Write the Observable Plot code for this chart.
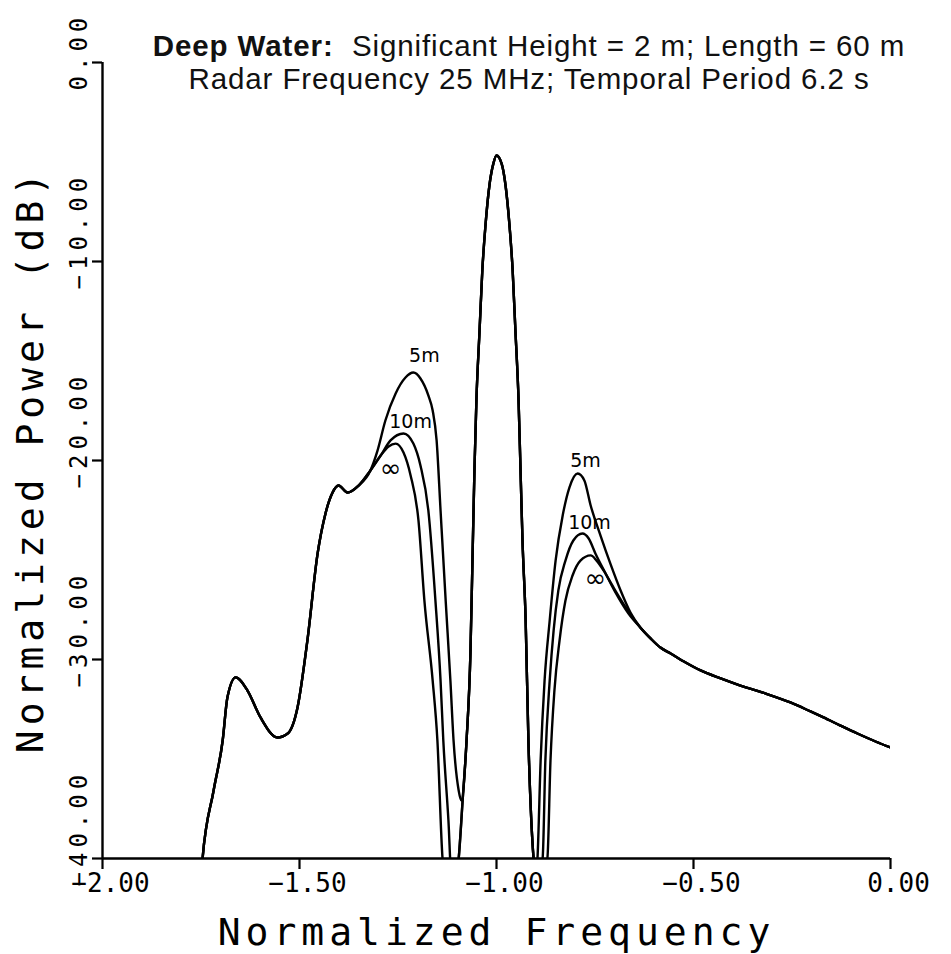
<!DOCTYPE html>
<html>
<head>
<meta charset="utf-8">
<script src="https://cdn.jsdelivr.net/npm/d3@7"></script>
<script src="https://cdn.jsdelivr.net/npm/@observablehq/plot@0.6"></script>
<style>
  html, body { margin: 0; padding: 0; background: #fff; }
  #wrap { position: relative; width: 951px; height: 954px; overflow: hidden; }
  #chart { position: absolute; left: 0; top: 0; }
  #title { position: absolute; left: 79px; width: 900px; top: 29px; text-align: center;
           font-family: "Liberation Sans", Arial, sans-serif; font-size: 29.5px; line-height: 33px;
           letter-spacing: 0.9px; color: #111; }
  #title b { font-weight: bold; }
</style>
</head>
<body>
<div id="wrap">
  <div id="chart"></div>
  <div id="title"><b>Deep Water:</b>&nbsp; Significant Height = 2 m; Length = 60 m<br>Radar Frequency 25 MHz; Temporal Period 6.2 s</div>
</div>
<script>
// ---- axis ticks ----
const xTicks = [-2, -1.5, -1, -0.5, 0];
const xTickLabels = ["\u22122.00", "\u22121.50", "\u22121.00", "\u22120.50", "0.00"];
const yTicks = [0, -10, -20, -30, -40];
const yTickLabels = ["0.00", "\u221210.00", "\u221220.00", "\u221230.00", "\u221240.00"];
const xTitle = "Normalized Frequency";
const yTitle = "Normalized Power (dB)";

// ---- shared low-frequency wing (all three curves) ----
const leftX = [-1.750, -1.746, -1.718, -1.695, -1.683, -1.662, -1.632, -1.599, -1.556, -1.530, -1.505, -1.480, -1.454, -1.434, -1.416, -1.401, -1.378, -1.350, -1.320];
const leftY = [-41.0, -40.0, -36.58, -34.07, -31.91, -30.90, -31.56, -32.91, -33.92, -33.72, -32.41, -29.05, -24.67, -22.66, -21.61, -21.26, -21.61, -21.26, -20.50];

// ---- left second-order peaks ----
const left5mX = [-1.302, -1.282, -1.256, -1.231, -1.211, -1.193, -1.173, -1.162, -1.152, -1.142, -1.129, -1.117, -1.109, -1.096, -1.089];
const left5mY = [-19.50, -17.99, -16.63, -15.83, -15.58, -15.88, -16.73, -17.49, -18.99, -22.51, -27.04, -31.06, -34.07, -36.58, -37.09];
const left10mX = [-1.294, -1.269, -1.236, -1.211, -1.193, -1.173, -1.155, -1.142, -1.135, -1.122, -1.114];
const left10mY = [-19.75, -18.99, -18.64, -19.15, -20.25, -22.51, -27.04, -31.06, -34.07, -38.09, -41.0];
const leftInfX = [-1.294, -1.274, -1.256, -1.236, -1.218, -1.198, -1.183, -1.162, -1.150, -1.137, -1.132];
const leftInfY = [-19.75, -19.30, -19.15, -19.60, -20.75, -23.02, -27.04, -31.06, -34.07, -40.0, -41.0];

// ---- first-order (Bragg) peak, shared ----
const centerX = [-1.102, -1.096, -1.086, -1.076, -1.066, -1.061, -1.056, -1.051, -1.043, -1.036, -1.028, -1.018, -1.008, -1.000, -0.987, -0.977, -0.967, -0.959, -0.952, -0.944, -0.939, -0.934, -0.926, -0.919, -0.906, -0.901];
const centerY = [-41.0, -40.0, -37.09, -34.07, -29.55, -25.03, -20.50, -16.98, -13.47, -10.45, -8.19, -6.18, -5.08, -4.67, -5.08, -6.18, -8.19, -10.45, -13.47, -16.98, -20.50, -24.02, -28.04, -34.07, -40.0, -41.0];

// ---- right second-order peaks ----
const right5mX = [-0.896, -0.888, -0.878, -0.865, -0.850, -0.832, -0.815, -0.794, -0.777, -0.761, -0.736, -0.711, -0.685, -0.660];
const right5mY = [-40.0, -35.08, -31.06, -28.04, -25.03, -22.76, -21.36, -20.65, -21.00, -22.26, -23.77, -25.18, -26.53, -27.64];
const right10mX = [-0.883, -0.876, -0.865, -0.855, -0.843, -0.825, -0.805, -0.782, -0.766, -0.749, -0.723, -0.698, -0.665];
const right10mY = [-40.0, -35.08, -31.06, -28.54, -26.53, -25.03, -24.02, -23.67, -23.92, -24.67, -25.68, -26.63, -27.69];
const rightInfX = [-0.871, -0.863, -0.853, -0.840, -0.825, -0.807, -0.787, -0.761, -0.746, -0.728, -0.706, -0.675];
const rightInfY = [-40.0, -35.08, -31.56, -29.05, -27.04, -25.78, -25.03, -24.77, -25.03, -25.53, -26.28, -27.29];

// ---- shared high-frequency tail ----
const tailX = [-0.635, -0.609, -0.584, -0.558, -0.520, -0.482, -0.431, -0.381, -0.317, -0.254, -0.203, -0.170, -0.127, -0.084, -0.038, 0.000];
const tailY = [-28.39, -28.94, -29.40, -29.70, -30.15, -30.55, -30.95, -31.31, -31.71, -32.16, -32.61, -32.91, -33.32, -33.72, -34.12, -34.42];

// ---- curve labels ----
const labelText = ["5m", "10m", "\u221e", "5m", "10m", "\u221e"];
const labelX = [-1.183, -1.218, -1.269, -0.774, -0.764, -0.749];
const labelY = [-14.72, -18.04, -20.40, -20.00, -23.12, -25.93];

// ---- build table ----
function seg(xs, ys, series) { return xs.map((x, i) => ({x, y: ys[i], series})); }
const points = [
  ...seg(leftX, leftY, "5m"), ...seg(left5mX, left5mY, "5m"),
  ...seg(centerX.slice(3), centerY.slice(3), "5m"), ...seg(right5mX, right5mY, "5m"), ...seg(tailX, tailY, "5m"),
  ...seg(leftX, leftY, "10m"), ...seg(left10mX, left10mY, "10m"),
  ...seg(centerX, centerY, "10m"), ...seg(right10mX, right10mY, "10m"), ...seg(tailX, tailY, "10m"),
  ...seg(leftX, leftY, "inf"), ...seg(leftInfX, leftInfY, "inf"),
  ...seg(centerX, centerY, "inf"), ...seg(rightInfX, rightInfY, "inf"), ...seg(tailX, tailY, "inf")
];
const labels = labelText.map((t, i) => ({t, x: labelX[i], y: labelY[i]}));

const plot = Plot.plot({
  width: 951,
  height: 954,
  marginLeft: 102,
  marginRight: 61,
  marginTop: 62,
  marginBottom: 96,
  x: {domain: [-2, 0], axis: null},
  y: {domain: [-40, 0], axis: null},
  style: {fontFamily: "'DejaVu Sans Mono', monospace", color: "black", background: "white", overflow: "visible"},
  marks: [
    Plot.ruleX([-2], {stroke: "black", strokeWidth: 2.4}),
    Plot.ruleY([-40], {stroke: "black", strokeWidth: 2.4}),
    Plot.axisX({ticks: xTicks, tickSize: 11, fill: "none", stroke: "black", strokeWidth: 2.2, label: null}),
    Plot.axisY({ticks: yTicks, tickSize: 10, fill: "none", stroke: "black", strokeWidth: 2.2, label: null}),
    Plot.line(points, {x: "x", y: "y", z: "series", curve: "monotone-x", clip: true, stroke: "black", strokeWidth: 2.4}),
    Plot.text(xTicks, {x: d => d, text: (d, i) => xTickLabels[i], frameAnchor: "bottom", textAnchor: "middle", lineAnchor: "top", dy: 15, dx: 8, fontSize: 26, fill: "black"}),
    Plot.text(yTicks, {y: d => d, text: (d, i) => yTickLabels[i], frameAnchor: "left", rotate: -90, textAnchor: "start", lineAnchor: "middle", dx: -23, dy: 28, fontSize: 24, fill: "black"}),
    Plot.text([xTitle], {frameAnchor: "bottom", textAnchor: "middle", lineAnchor: "bottom", dy: 86, fontSize: 38, fill: "black"}),
    Plot.text([yTitle], {frameAnchor: "left", rotate: -90, textAnchor: "middle", lineAnchor: "middle", dx: -72, fontSize: 38, fill: "black"}),
    Plot.text(labels, {filter: d => d.t !== "\u221e", x: "x", y: "y", text: "t", fontSize: 19, fontFamily: "'DejaVu Sans', sans-serif", fill: "black"}),
    Plot.text(labels, {filter: d => d.t === "\u221e", x: "x", y: "y", text: "t", fontSize: 26, fontFamily: "'DejaVu Sans', sans-serif", fill: "black"})
  ]
});
document.getElementById("chart").appendChild(plot);
plot.querySelectorAll("text").forEach(t => {
  const s = t.textContent;
  const rotated = (t.getAttribute("transform") || "").includes("rotate");
  if (s === xTitle || s === yTitle) t.setAttribute("letter-spacing", "5");
  else if (rotated && yTickLabels.includes(s)) t.setAttribute("letter-spacing", "5");
});
</script>
</body>
</html>
